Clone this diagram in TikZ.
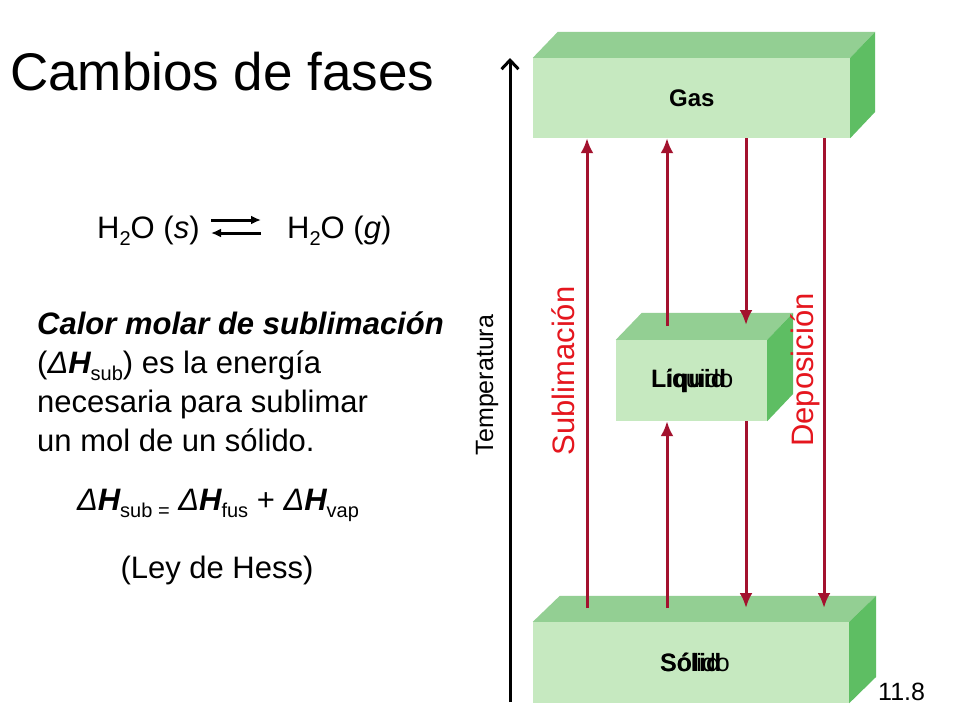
\documentclass[tikz,border=0pt]{standalone}
\usepackage{fontspec}
\setmainfont{Liberation Sans}
\usetikzlibrary{arrows.meta,calc}
\newcommand\fsz[1]{\fontsize{#1}{#1}\selectfont}
\newcommand\subx[1]{\raisebox{-0.25em}{\fsz{20}#1}}
\newcommand\dHx{{\itshape Δ\bfseries H}}
\definecolor{frontc}{HTML}{C6E9C0}
\definecolor{topc}{HTML}{93CF93}
\definecolor{sidec}{HTML}{5EBE63}
\definecolor{arrowred}{HTML}{A3122E}
\definecolor{labelred}{HTML}{E5161E}
\begin{document}
\begin{tikzpicture}[x=1pt,y=-1pt,
  front/.style={fill=frontc,draw=none,inner sep=0pt},
  topface/.style={fill=topc},
  sideface/.style={fill=sidec},
  redarrow/.style={draw=arrowred,line width=3pt,-{Latex[length=15pt,width=13pt]}},
  axisarrow/.style={draw=black,line width=3pt,-{Straight Barb[length=9pt,width=17pt]}},
  eqarrow/.style={line width=3pt,-{Latex[length=10pt,width=9pt]}},
  txt/.style={inner sep=0pt,anchor=base west},
  boxlabel/.style={inner sep=0pt,anchor=west}]
\useasboundingbox[fill=white] (0,0) rectangle (960,720);

% ---------- left texts ----------
\node[txt] (title) at (10,90) {\fsz{53}Cambios de fases};
\node[txt] (h2os) at (97,238) {\fsz{31}H\subx{2}O (\textit{s})};
\node[txt] (h2og) at (287,238) {\fsz{31}H\subx{2}O (\textit{g})};
\coordinate (eqL1) at (211,220);
\coordinate (eqR1) at (261,220);
\coordinate (eqL2) at (211,233);
\coordinate (eqR2) at (261,233);
\draw[eqarrow] (eqL1) -- (eqR1);
\draw[eqarrow] (eqR2) -- (eqL2);

\node[txt] (l1) at (37,334) {\fsz{31}\bfseries\itshape Calor molar de sublimación};
\node[txt] (l2) at (37,373) {\fsz{31}(\dHx\subx{sub}) es la energía};
\node[txt] (l3) at (37,412) {\fsz{31}necesaria para sublimar};
\node[txt] (l4) at (37,451) {\fsz{31}un mol de un sólido.};
\node[inner sep=0pt,anchor=base] (eq) at (218,510) {\fsz{31}\dHx\subx{sub =} \dHx\subx{fus} + \dHx\subx{vap}};
\node[inner sep=0pt,anchor=base] (hess) at (217,578) {\fsz{31}(Ley de Hess)};

% ---------- boxes ----------
% Gas
\node[front,minimum width=317pt,minimum height=80pt] (gas) at (691.5,98) {};
\fill[topface] (gas.north west) -- ++(25,-26) -- ($(gas.north east)+(25,-26)$) -- (gas.north east) -- cycle;
\fill[sideface] (gas.north east) -- ++(25,-26) -- ++(0,80) -- (gas.south east) -- cycle;
\node[boxlabel] (gastxt) at (669,98) {\fsz{24}\bfseries Gas};
% Liquid
\node[front,minimum width=151pt,minimum height=81pt] (liq) at (691.5,380.5) {};
\fill[topface] (liq.north west) -- ++(26,-27) -- ($(liq.north east)+(26,-27)$) -- (liq.north east) -- cycle;
\fill[sideface] (liq.north east) -- ++(26,-27) -- ++(0,81) -- (liq.south east) -- cycle;
\node[boxlabel] (liqtxtA) at (651,381) {\fsz{25}\bfseries Liquid};
\node[boxlabel] (liqtxtB) at (651,381) {\fsz{25}Líquido};
% Solid
\node[front,minimum width=316pt,minimum height=81pt] (sol) at (691,662.5) {};
\fill[topface] (sol.north west) -- ++(27,-26) -- ($(sol.north east)+(27,-26)$) -- (sol.north east) -- cycle;
\fill[sideface] (sol.north east) -- ++(27,-26) -- ++(0,81) -- (sol.south east) -- cycle;
\node[boxlabel] (soltxtA) at (660,662) {\fsz{25}\bfseries Sólid};
\node[boxlabel] (soltxtB) at (660,662) {\fsz{25}Sólido};

% ---------- arrows ----------
\coordinate (s1) at (587,608);
\coordinate (s2) at (667,608);
\coordinate (s3) at (746,608);
\coordinate (s4) at (824,608);
\coordinate (q2) at (667,326);
\coordinate (q3) at (746,325);
\draw[redarrow] (s1) -- (s1 |- gas.south);
\draw[redarrow] (s2) -- (s2 |- liq.south);
\draw[redarrow] (q2) -- (q2 |- gas.south);
\draw[redarrow] (q3 |- gas.south) -- (q3);
\draw[redarrow] (s3 |- liq.south) -- (s3);
\draw[redarrow] (s4 |- gas.south) -- (s4);

% temperature axis
\coordinate (tbot) at (510,702);
\coordinate (ttop) at (510,58);
\draw[axisarrow] (tbot) -- (ttop);
\node[rotate=90,inner sep=0pt] (temp) at (487,385) {\fsz{25}Temperatura};

\node[rotate=90,inner sep=0pt,text=labelred] (subl) at (563,371) {\fsz{31}Sublimación};
\node[rotate=90,inner sep=0pt,text=labelred] (depo) at (805,370) {\fsz{31}Deposición};

\node[txt] (num) at (878,700) {\fsz{25}11.8};
\end{tikzpicture}
\end{document}
